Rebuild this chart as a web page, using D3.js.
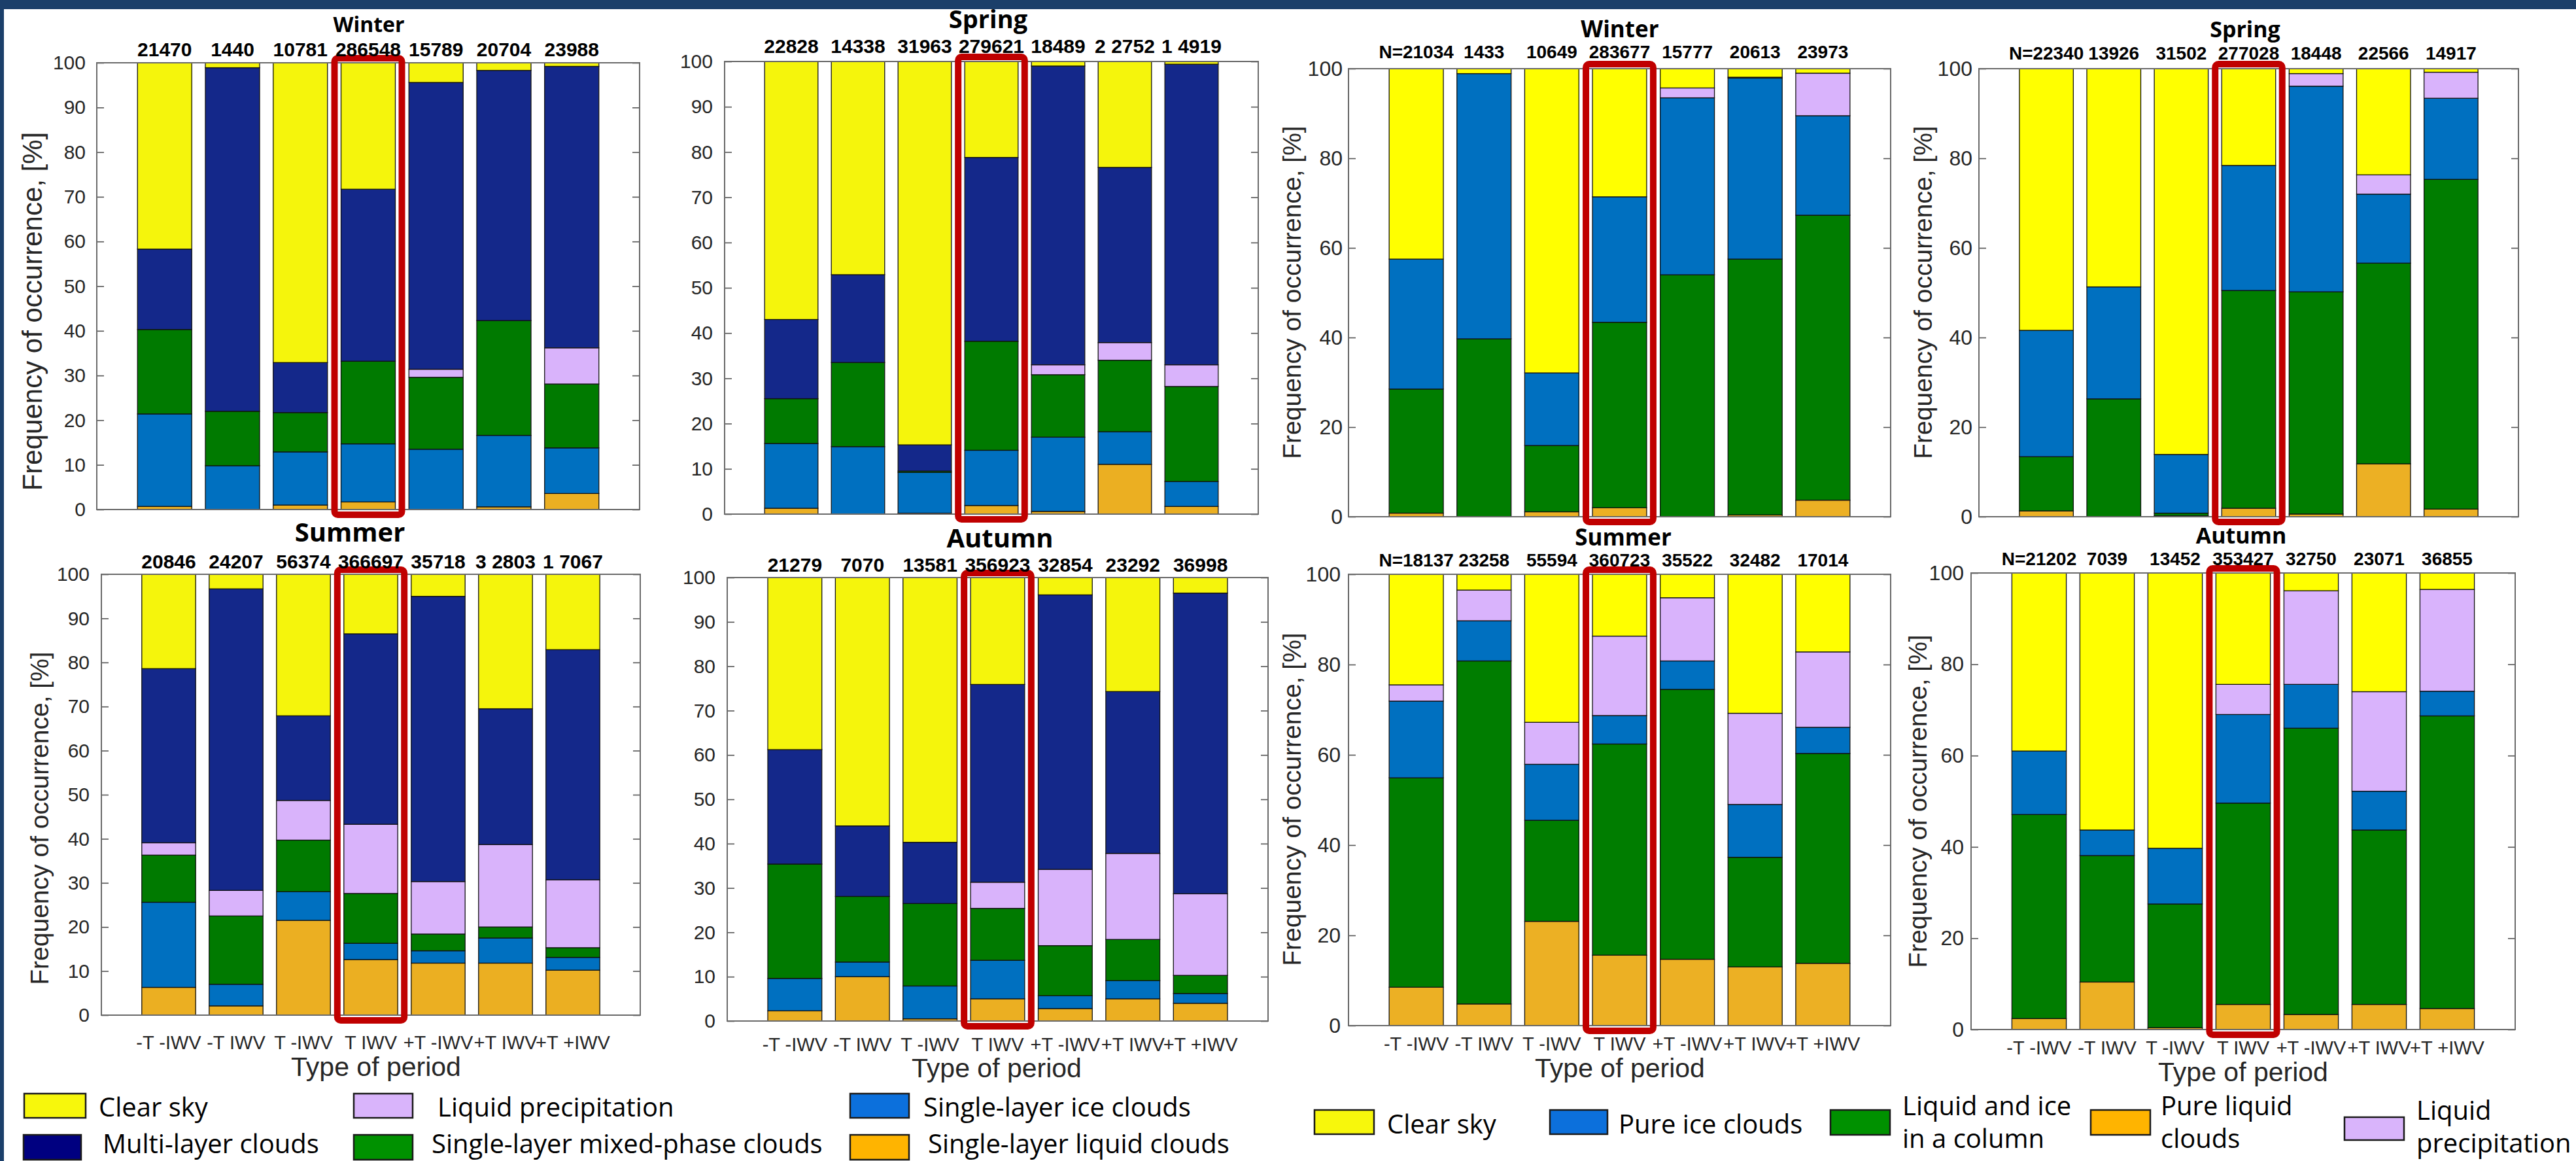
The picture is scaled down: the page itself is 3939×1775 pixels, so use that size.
<!DOCTYPE html>
<html>
<head>
<meta charset="utf-8">
<script src="https://cdn.jsdelivr.net/npm/d3@7"></script>
<style>
  html, body { margin: 0; padding: 0; background: #fff; }
  svg { display: block; }
</style>
</head>
<body>
<svg id="chart" width="3939" height="1775"></svg>
<script>
// ---- data -----------------------------------------------------------------
const periods = ["-T -IWV", "-T IWV", "T -IWV", "T IWV", "+T -IWV", "+T IWV", "+T +IWV"];

// left figure: cloud classes, stacked bottom -> top
const leftKeys = ["liquid", "ice", "mixed", "precip", "multi", "clear"];
// right figure: phase classes, stacked bottom -> top
const rightKeys = ["liquid", "column", "ice", "precip", "clear"];

const winterLeftN = ["21470", "1440", "10781", "286548", "15789", "20704", "23988"];
const winterLeft = {
  liquid: [0.7, 0, 1.0, 1.7, 0, 0.6, 3.6],
  ice:    [20.7, 9.8, 11.9, 13.0, 13.5, 16.0, 10.2],
  mixed:  [18.9, 12.2, 8.8, 18.5, 16.1, 25.7, 14.3],
  precip: [0, 0, 0, 0, 1.8, 0, 8.1],
  multi:  [18.0, 76.9, 11.2, 38.5, 64.2, 56.0, 63.0],
  clear:  [41.7, 1.1, 67.1, 28.3, 4.4, 1.7, 0.8]
};

const springLeftN = ["22828", "14338", "31963", "279621", "18489", "2 2752", "1 4919"];
const springLeft = {
  liquid: [1.3, 0, 0.2, 1.9, 0.6, 11.0, 1.7],
  ice:    [14.3, 14.9, 9.0, 12.2, 16.4, 7.2, 5.5],
  mixed:  [9.9, 18.6, 0.3, 24.1, 13.8, 15.8, 21.0],
  precip: [0, 0, 0, 0, 2.2, 3.9, 4.8],
  multi:  [17.5, 19.4, 5.8, 40.6, 66.0, 38.7, 66.4],
  clear:  [57.0, 47.1, 84.7, 21.2, 1.0, 23.4, 0.6]
};

const summerLeftN = ["20846", "24207", "56374", "366697", "35718", "3 2803", "1 7067"];
const summerLeft = {
  liquid: [6.3, 2.1, 21.5, 12.6, 11.8, 11.8, 10.2],
  ice:    [19.3, 4.9, 6.5, 3.7, 2.8, 5.7, 2.9],
  mixed:  [10.7, 15.5, 11.7, 11.3, 3.8, 2.5, 2.2],
  precip: [2.8, 5.8, 9.0, 15.7, 11.9, 18.7, 15.4],
  multi:  [39.5, 68.4, 19.2, 43.2, 64.7, 30.8, 52.2],
  clear:  [21.4, 3.3, 32.1, 13.5, 5.0, 30.5, 17.1]
};

const autumnLeftN = ["21279", "7070", "13581", "356923", "32854", "23292", "36998"];
const autumnLeft = {
  liquid: [2.3, 10.0, 0.5, 5.0, 2.8, 5.0, 4.0],
  ice:    [7.3, 3.3, 7.4, 8.7, 2.9, 4.1, 2.2],
  mixed:  [25.8, 14.8, 18.6, 11.7, 11.3, 9.3, 4.1],
  precip: [0, 0, 0, 5.9, 17.2, 19.4, 18.4],
  multi:  [25.8, 15.9, 13.8, 44.6, 61.9, 36.5, 67.8],
  clear:  [38.8, 56.0, 59.7, 24.1, 3.9, 25.7, 3.5]
};

const winterRightN = ["N=21034", "1433", "10649", "283677", "15777", "20613", "23973"];
const winterRight = {
  liquid: [0.8, 0, 1.1, 2.0, 0, 0.4, 3.7],
  column: [27.7, 39.7, 14.8, 41.4, 54.0, 57.1, 63.6],
  ice:    [29.0, 59.2, 16.2, 28.0, 39.5, 40.4, 22.2],
  precip: [0, 0, 0, 0, 2.2, 0.2, 9.5],
  clear:  [42.5, 1.1, 67.9, 28.6, 4.3, 1.9, 1.0]
};

const springRightN = ["N=22340", "13926", "31502", "277028", "18448", "22566", "14917"];
const springRight = {
  liquid: [1.3, 0, 0.2, 1.9, 0.6, 11.8, 1.7],
  column: [12.1, 26.3, 0.6, 48.6, 49.6, 44.8, 73.6],
  ice:    [28.2, 25.0, 13.1, 27.9, 45.9, 15.4, 18.1],
  precip: [0, 0, 0, 0, 2.8, 4.3, 5.8],
  clear:  [58.4, 48.7, 86.1, 21.6, 1.1, 23.7, 0.8]
};

const summerRightN = ["N=18137", "23258", "55594", "360723", "35522", "32482", "17014"];
const summerRight = {
  liquid: [8.5, 4.8, 23.1, 15.6, 14.7, 13.0, 13.8],
  column: [46.4, 76.0, 22.4, 46.8, 59.8, 24.3, 46.5],
  ice:    [17.0, 8.9, 12.4, 6.3, 6.3, 11.7, 5.8],
  precip: [3.6, 6.8, 9.3, 17.6, 14.0, 20.2, 16.7],
  clear:  [24.5, 3.5, 32.8, 13.7, 5.2, 30.8, 17.2]
};

const autumnRightN = ["N=21202", "7039", "13452", "353427", "32750", "23071", "36855"];
const autumnRight = {
  liquid: [2.4, 10.4, 0.4, 5.5, 3.3, 5.5, 4.6],
  column: [44.7, 27.7, 27.1, 44.1, 62.7, 38.2, 64.1],
  ice:    [13.9, 5.6, 12.2, 19.4, 9.6, 8.5, 5.4],
  precip: [0, 0, 0, 6.6, 20.5, 21.8, 22.3],
  clear:  [39.0, 56.3, 60.3, 24.4, 3.9, 26.0, 3.6]
};

const leftLegend = [
  ["clear", "Clear sky"], ["precip", "Liquid precipitation"], ["ice", "Single-layer ice clouds"],
  ["multi", "Multi-layer clouds"], ["mixed", "Single-layer mixed-phase clouds"], ["liquid", "Single-layer liquid clouds"]
];
const rightLegend = [
  ["clear", ["Clear sky"]], ["ice", ["Pure ice clouds"]], ["column", ["Liquid and ice", "in a column"]],
  ["liquid", ["Pure liquid", "clouds"]], ["precip", ["Liquid", "precipitation"]]
];

// ---- styles ---------------------------------------------------------------
const leftColors = {
  liquid: "#ebaf22", ice: "#0070c0", mixed: "#007a00", precip: "#d9b3fb", multi: "#14288a", clear: "#f5f50c"
};
const rightColors = {
  liquid: "#ecb024", column: "#007d00", ice: "#0070c0", precip: "#d9b3fc", clear: "#ffff00"
};
const legendColors = {
  clear: "#f7f70c", precip: "#d9b4fb", ice: "#0c70dc", multi: "#000080",
  mixed: "#009100", column: "#009100", liquid: "#ffb400"
};

const axisFont = "'Liberation Sans', Arial, sans-serif";
const titleFont = "'Open Sans', sans-serif";
const inkGray = "#262626";

const panels = [
  { data: winterLeft, counts: winterLeftN, keys: leftKeys, colors: leftColors, title: "Winter",
    left: 148, right: 978, top: 96, bottom: 779, titleX: 564, titleY: 49, titleSize: 32,
    countY: 86, countSize: 30, yStep: 10, tickSize: 30, tickPad: 17,
    yLabel: { x: 49, y: 476, size: 42 } },
  { data: springLeft, counts: springLeftN, keys: leftKeys, colors: leftColors, title: "Spring",
    left: 1108, right: 1924, top: 94, bottom: 786, titleX: 1511, titleY: 43, titleSize: 38,
    countY: 81, countSize: 30, yStep: 10, tickSize: 30, tickPad: 18 },
  { data: winterRight, counts: winterRightN, keys: rightKeys, colors: rightColors, title: "Winter",
    left: 2062, right: 2891, top: 105, bottom: 790, titleX: 2477, titleY: 57, titleSize: 35,
    countY: 89, countSize: 28, yStep: 20, tickSize: 32, tickPad: 9,
    yLabel: { x: 1975, y: 447, size: 39 } },
  { data: springRight, counts: springRightN, keys: rightKeys, colors: rightColors, title: "Spring",
    left: 3026, right: 3851, top: 105, bottom: 790, titleX: 3433, titleY: 57, titleSize: 34,
    countY: 91, countSize: 28, yStep: 20, tickSize: 32, tickPad: 10,
    yLabel: { x: 2940, y: 447, size: 39 } },
  { data: summerLeft, counts: summerLeftN, keys: leftKeys, colors: leftColors, title: "Summer",
    left: 155, right: 979, top: 878, bottom: 1552, titleX: 535, titleY: 828, titleSize: 40,
    countY: 869, countSize: 30, yStep: 10, tickSize: 30, tickPad: 18,
    yLabel: { x: 60, y: 1251, size: 39 },
    xLabels: { y: 1604, size: 29 }, xTitle: { x: 575, y: 1645, size: 41 } },
  { data: autumnLeft, counts: autumnLeftN, keys: leftKeys, colors: leftColors, title: "Autumn",
    left: 1112, right: 1939, top: 883, bottom: 1561, titleX: 1529, titleY: 837, titleSize: 40,
    countY: 874, countSize: 30, yStep: 10, tickSize: 30, tickPad: 18,
    xLabels: { y: 1607, size: 29 }, xTitle: { x: 1524, y: 1647, size: 41 } },
  { data: summerRight, counts: summerRightN, keys: rightKeys, colors: rightColors, title: "Summer",
    left: 2062, right: 2891, top: 878, bottom: 1568, titleX: 2482, titleY: 834, titleSize: 35,
    countY: 866, countSize: 28, yStep: 20, tickSize: 32, tickPad: 12,
    yLabel: { x: 1975, y: 1222, size: 39 },
    xLabels: { y: 1606, size: 29 }, xTitle: { x: 2477, y: 1647, size: 41 } },
  { data: autumnRight, counts: autumnRightN, keys: rightKeys, colors: rightColors, title: "Autumn",
    left: 3014, right: 3846, top: 876, bottom: 1574, titleX: 3427, titleY: 831, titleSize: 34,
    countY: 864, countSize: 28, yStep: 20, tickSize: 32, tickPad: 11,
    yLabel: { x: 2932, y: 1225, size: 39 },
    xLabels: { y: 1612, size: 29 }, xTitle: { x: 3430, y: 1653, size: 41 } }
];

const svg = d3.select("#chart");

// slide frame (dark blue band at top and left)
svg.append("rect").attr("x", 0).attr("y", 0).attr("width", 3939).attr("height", 14).attr("fill", "#1b3f6a");
svg.append("rect").attr("x", 0).attr("y", 0).attr("width", 6).attr("height", 1775).attr("fill", "#1b3f6a");

function drawPanel(p) {
  const g = svg.append("g");

  // xlim [0 8] with bars at 1..7 and width 0.8, like matlab's bar()
  const x = d3.scaleBand().domain(periods).range([p.left, p.right])
    .paddingInner(0.2).paddingOuter(0.6);
  const y = d3.scaleLinear().domain([0, 100]).range([p.bottom, p.top]);

  const rows = periods.map((per, i) => {
    const r = { period: per };
    p.keys.forEach(k => r[k] = p.data[k][i]);
    return r;
  });
  const layers = d3.stack().keys(p.keys)(rows);

  g.append("rect")
    .attr("x", p.left).attr("y", p.top)
    .attr("width", p.right - p.left).attr("height", p.bottom - p.top)
    .attr("fill", "#fff");

  g.selectAll(".layer")
    .data(layers)
    .join("g")
      .attr("fill", d => p.colors[d.key])
    .selectAll("rect")
    .data(d => d.filter(s => s[1] - s[0] > 0))
    .join("rect")
      .attr("x", d => x(d.data.period))
      .attr("y", d => y(d[1]))
      .attr("width", x.bandwidth())
      .attr("height", d => y(d[0]) - y(d[1]))
      .attr("stroke", "#111")
      .attr("stroke-width", 1.3);

  // axes: ticks pointing inwards on both sides
  const ticks = d3.range(0, 101, p.yStep);
  const yAxis = g.append("g")
    .attr("transform", `translate(${p.left},0)`)
    .call(d3.axisLeft(y).tickValues(ticks).tickSize(-11).tickPadding(p.tickPad));
  yAxis.select(".domain").remove();
  yAxis.selectAll("line").attr("stroke", "#555").attr("stroke-width", 1.6);
  yAxis.selectAll("text")
    .attr("font-family", axisFont).attr("font-size", p.tickSize).attr("fill", inkGray);

  const yAxisR = g.append("g")
    .attr("transform", `translate(${p.right},0)`)
    .call(d3.axisRight(y).tickValues(ticks).tickSize(-11).tickFormat(""));
  yAxisR.select(".domain").remove();
  yAxisR.selectAll("line").attr("stroke", "#555").attr("stroke-width", 1.6);

  g.append("rect")
    .attr("x", p.left).attr("y", p.top)
    .attr("width", p.right - p.left).attr("height", p.bottom - p.top)
    .attr("fill", "none").attr("stroke", "#6a6a6a").attr("stroke-width", 2);

  // highlight of the "T IWV" column
  const hx = x(periods[3]);
  g.append("rect")
    .attr("x", hx - 10).attr("y", p.top - 7)
    .attr("width", x.bandwidth() + 20).attr("height", p.bottom - p.top + 15)
    .attr("rx", 5)
    .attr("fill", "none").attr("stroke", "#c00000").attr("stroke-width", 10);

  // sample sizes over each bar
  g.selectAll(".count")
    .data(p.counts)
    .join("text")
      .attr("x", (d, i) => x(periods[i]) + x.bandwidth() / 2)
      .attr("y", p.countY)
      .attr("text-anchor", "middle")
      .attr("font-family", axisFont).attr("font-weight", "bold")
      .attr("font-size", p.countSize).attr("fill", "#000")
      .text(d => d);

  g.append("text")
    .attr("x", p.titleX).attr("y", p.titleY)
    .attr("text-anchor", "middle")
    .attr("font-family", titleFont).attr("font-weight", "bold")
    .attr("font-size", p.titleSize).attr("fill", "#000")
    .text(p.title);

  if (p.yLabel) {
    g.append("text")
      .attr("transform", `translate(${p.yLabel.x},${p.yLabel.y}) rotate(-90)`)
      .attr("text-anchor", "middle").attr("dy", "0.36em")
      .attr("font-family", axisFont).attr("font-size", p.yLabel.size).attr("fill", inkGray)
      .text("Frequency of occurrence, [%]");
  }

  if (p.xLabels) {
    g.selectAll(".xlab")
      .data(periods)
      .join("text")
        .attr("x", d => x(d) + x.bandwidth() / 2)
        .attr("y", p.xLabels.y)
        .attr("text-anchor", "middle")
        .attr("font-family", axisFont).attr("font-size", p.xLabels.size).attr("fill", inkGray)
        .text(d => d);
    g.append("text")
      .attr("x", p.xTitle.x).attr("y", p.xTitle.y)
      .attr("text-anchor", "middle")
      .attr("font-family", axisFont).attr("font-size", p.xTitle.size).attr("fill", inkGray)
      .text("Type of period");
  }
}

panels.forEach(drawPanel);

// ---- legends --------------------------------------------------------------
const leftLegendPos = [
  { sx: 37, sy: 1672, sw: 94, sh: 37, tx: 151, ty: 1707 },
  { sx: 541, sy: 1672, sw: 90, sh: 37, tx: 669, ty: 1707 },
  { sx: 1300, sy: 1672, sw: 90, sh: 37, tx: 1412, ty: 1707 },
  { sx: 36, sy: 1735, sw: 88, sh: 38, tx: 157, ty: 1763 },
  { sx: 541, sy: 1735, sw: 90, sh: 38, tx: 660, ty: 1763 },
  { sx: 1300, sy: 1735, sw: 90, sh: 38, tx: 1419, ty: 1763 }
];
const rightLegendPos = [
  { sx: 2010, sy: 1697, sw: 91, sh: 37, tx: 2121, ty: 1733 },
  { sx: 2370, sy: 1697, sw: 88, sh: 37, tx: 2475, ty: 1733 },
  { sx: 2799, sy: 1697, sw: 91, sh: 38, tx: 2909, ty: 1705 },
  { sx: 3197, sy: 1697, sw: 91, sh: 38, tx: 3304, ty: 1705 },
  { sx: 3585, sy: 1708, sw: 91, sh: 35, tx: 3695, ty: 1712 }
];

function drawLegend(items, pos) {
  const lg = svg.append("g");
  items.forEach(([key, label], i) => {
    const q = pos[i];
    lg.append("rect")
      .attr("x", q.sx).attr("y", q.sy).attr("width", q.sw).attr("height", q.sh)
      .attr("fill", legendColors[key]).attr("stroke", "#1a1a1a").attr("stroke-width", 2.5);
    const lines = Array.isArray(label) ? label : [label];
    const t = lg.append("text")
      .attr("x", q.tx).attr("y", q.ty)
      .attr("font-family", titleFont).attr("font-size", 40).attr("fill", "#000");
    lines.forEach((ln, j) => {
      t.append("tspan").attr("x", q.tx).attr("dy", j === 0 ? 0 : 50).text(ln);
    });
  });
}

drawLegend(leftLegend, leftLegendPos);
drawLegend(rightLegend, rightLegendPos);
</script>
</body>
</html>
